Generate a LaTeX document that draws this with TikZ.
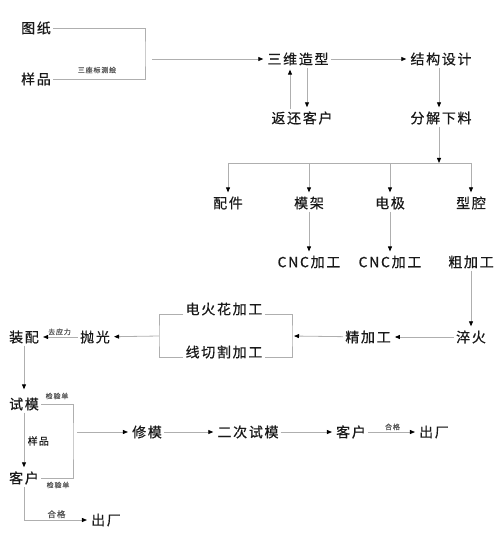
\documentclass[tikz,border=0pt]{standalone}
\usepackage{fontspec}
\setmainfont{Noto Sans CJK SC}[LetterSpace=12, FakeBold=0.6]
\usepackage{xcolor}
\definecolor{linegray}{RGB}{175,175,175}
\definecolor{ink}{RGB}{25,25,25}
\definecolor{note}{RGB}{85,85,85}
\usetikzlibrary{arrows.meta}
\tikzset{
  %% process steps and small notes
  stage/.style={font=\fontsize{14}{16}\selectfont, text=ink, inner sep=2pt},
  tag/.style={font=\fontsize{7}{8}\selectfont, text=note, inner sep=1.5pt},
  wire/.style={draw=linegray, line width=0.8pt},
  flow/.style={wire, -{Triangle[length=5pt,width=4pt,color=black]},
               shorten >=2pt},
}

\begin{document}
\begin{tikzpicture}[x=1pt,y=-1pt]
\useasboundingbox (0,0) rectangle (501,534);

% steps
\node[stage] (tuzhi) at (36,28) {图纸};
\node[stage] (yangpin) at (36,79) {样品};
\node[stage] (sanwei) at (298,59) {三维造型};
\node[stage] (jiegou) at (441,59) {结构设计};
\node[stage] (fanhuan) at (302,118) {返还客户};
\node[stage] (fenjie) at (441,118) {分解下料};
\node[stage] (peijian) at (228,203) {配件};
\node[stage] (mojia) at (309,203) {模架};
\node[stage] (dianji) at (390,203) {电极};
\node[stage] (xingqiang) at (471,203) {型腔};
\node[stage] (cnc1) at (309,262) {CNC加工};
\node[stage] (cnc2) at (390,262) {CNC加工};
\node[stage] (cujia) at (471,262) {粗加工};
\node[stage] (cuihuo) at (471,337) {淬火};
\node[stage] (jingjia) at (368,337) {精加工};
\node[stage] (dianhuo) at (224,309) {电火花加工};
\node[stage] (xianqie) at (224,352) {线切割加工};
\node[stage] (paoguang) at (95,337) {抛光};
\node[stage] (zhuangpei) at (24,337) {装配};
\node[stage] (shimo) at (24,404) {试模};
\node[stage] (kehu) at (24,478) {客户};
\node[stage] (chuchang) at (106,520) {出厂};
\node[stage] (xiumo) at (147,432) {修模};
\node[stage] (erci) at (248,432) {二次试模};
\node[stage] (kehub) at (351,432) {客户};
\node[stage] (chuchangb) at (434,432) {出厂};

% drawing / sample -> 3D model
\coordinate (scan) at (145,54);
\draw[wire] (tuzhi.east) -| (scan) |- (yangpin.east);
\node[tag] (celiang) at (97,70) {三座标测绘};
\draw[flow] ([xshift=7pt]scan |- sanwei.west) -- (sanwei.west);
\draw[flow] (sanwei.east) -- (jiegou.west);
\draw[flow] ([xshift=-12pt]fanhuan.north) -- ([xshift=-12pt]fanhuan.north |- sanwei.south);
\draw[flow] ([xshift=5pt]fanhuan.north |- sanwei.south) -- ([xshift=5pt]fanhuan.north);
\draw[flow] ([xshift=-2pt]jiegou.south) -- ([xshift=-2pt]fenjie.north);

% split into parts
\coordinate (split) at (439,163);
\draw[flow, shorten >=0pt] ([xshift=-2pt]fenjie.south) -- (split);
\draw[wire] (peijian.north |- split) -- (xingqiang.north |- split);
\foreach \part in {peijian,mojia,dianji,xingqiang}
  \draw[flow] (\part.north |- split) -- (\part.north);
\draw[flow] (mojia) -- (cnc1);
\draw[flow] (dianji) -- (cnc2);
\draw[flow] (cujia) -- (cuihuo);

% finishing
\coordinate (mergeR) at (292,336);
\coordinate (mergeL) at (159,336);
\draw[flow] (cuihuo) -- (jingjia);
\draw[flow] (jingjia) -- (mergeR);
\draw[wire] (dianhuo.base east) -| (mergeR) |- (xianqie.base east);
\draw[wire] (dianhuo.base west) -| (mergeL) |- (xianqie.base west);
\draw[flow] (mergeL) -- (paoguang);
\draw[flow] (paoguang) -- node[tag, above] (quyingli) {去应力} (zhuangpei);
\draw[flow, shorten >=6pt] (zhuangpei) -- (shimo);

% trial and delivery
\coordinate (check) at (73,441);
\draw[wire] (shimo.east) -| (check) |- (kehu.east);
\node[tag] (jianyan1) at (57,396) {检验单};
\node[tag] (jianyan2) at (58,485) {检验单};
\draw[flow] ([xshift=4pt]check |- xiumo.west) -- (xiumo.west);
\draw[flow] (shimo) -- node[right, font=\fontsize{10}{12}\selectfont, text=ink] (yangpinb) {样品} (kehu);
\draw[flow] (kehu.south) |- node[pos=0.75, tag, above, font=\fontsize{8.5}{10}\selectfont] (hege1) {合格} (chuchang.west);
\draw[flow] (xiumo) -- (erci);
\draw[flow] (erci) -- (kehub);
\draw[flow] (kehub) -- node[tag, above] (hege2) {合格} (chuchangb);
\end{tikzpicture}
\end{document}
